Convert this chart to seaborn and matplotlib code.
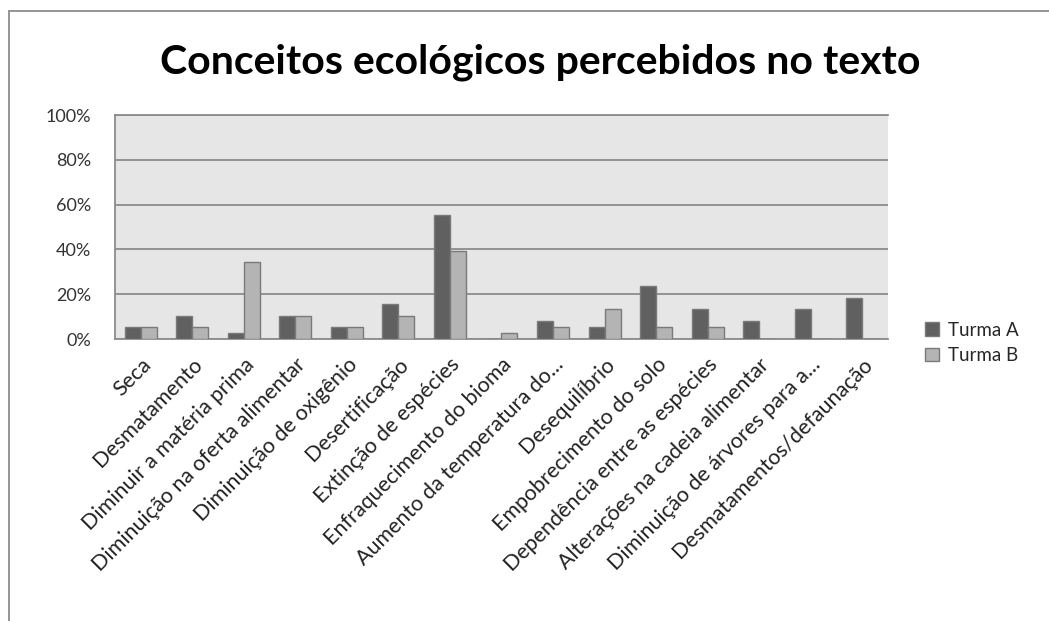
import matplotlib
matplotlib.use("Agg")
import matplotlib.pyplot as plt
import matplotlib.transforms as mtransforms
import seaborn as sns
import pandas as pd
from matplotlib.lines import Line2D
from matplotlib.patches import Patch
from matplotlib.ticker import FuncFormatter

# Data (percent)
categories = [
    "Seca",
    "Desmatamento",
    "Diminuir a matéria prima",
    "Diminuição na oferta alimentar",
    "Diminuição de oxigênio",
    "Desertificação",
    "Extinção de espécies",
    "Enfraquecimento do bioma",
    "Aumento da temperatura do...",
    "Desequilíbrio",
    "Empobrecimento do solo",
    "Dependência entre as espécies",
    "Alterações na cadeia alimentar",
    "Diminuição de árvores para a...",
    "Desmatamentos/defaunação",
]
turma_a = [5.3, 10.5, 2.6, 10.5, 5.3, 15.8, 55.3, 0.0, 7.9, 5.3, 23.7, 13.2, 7.9, 13.2, 18.4]
turma_b = [5.3, 5.3, 34.2, 10.5, 5.3, 10.5, 39.5, 2.6, 5.3, 13.2, 5.3, 5.3, 0.0, 0.0, 0.0]
series = ["Turma A", "Turma B"]
y_ticks = [0, 20, 40, 60, 80, 100]

colors = {"Turma A": "#606060", "Turma B": "#b4b4b4"}

df = pd.DataFrame({
    "conceito": categories * 2,
    "turma": [series[0]] * len(categories) + [series[1]] * len(categories),
    "valor": turma_a + turma_b,
})

sns.set_style("white")
plt.rcParams["font.family"] = ["Lato", "DejaVu Sans"]

fig = plt.figure(figsize=(10.49, 6.21), dpi=100)
ax = fig.add_axes([0.1096, 0.454, 0.7369, 0.3608])
ax.set_facecolor("#e6e6e6")

sns.barplot(data=df, x="conceito", y="valor", hue="turma", palette=colors,
            width=0.62, edgecolor="#7a7a7a", linewidth=1.0, ax=ax,
            legend=False, zorder=3)

ax.set_ylim(0, 100)
ax.set_xlim(-0.5, len(categories) - 0.5)
ax.set_yticks(y_ticks)
ax.yaxis.set_major_formatter(FuncFormatter(lambda v, p: f"{v:.0f}%"))
ax.grid(axis="y", color="#8c8c8c", linewidth=1.3, zorder=0)
ax.set_axisbelow(True)
ax.set_xlabel("")
ax.set_ylabel("")
for side in ["left", "bottom", "top"]:
    ax.spines[side].set_visible(True)
    ax.spines[side].set_color("#8c8c8c")
    ax.spines[side].set_linewidth(1.3)
ax.spines["right"].set_visible(False)

ax.tick_params(axis="y", length=0, pad=17, labelsize=13, labelcolor="#333333")
ax.tick_params(axis="x", length=0, pad=11, labelsize=15.5, labelcolor="#222222")
ax.set_xticks(range(len(categories)))
ax.set_xticklabels(categories, rotation=45, ha="right", rotation_mode="anchor")
# shift labels slightly right like the original
offset = mtransforms.ScaledTranslation(0.0, 0, fig.dpi_scale_trans)
for lbl in ax.get_xticklabels():
    lbl.set_transform(lbl.get_transform() + offset)

fig.text(0.515, 0.9, "Conceitos ecológicos percebidos no texto",
         ha="center", va="center", fontsize=29.5, fontweight="bold", color="black")

handles = [Patch(facecolor=colors[s], edgecolor="#7a7a7a", label=s) for s in series]
fig.legend(handles=handles, loc="center left", bbox_to_anchor=(0.866, 0.448),
           frameon=False, fontsize=13.5, handlelength=0.75, handleheight=0.75,
           handletextpad=0.45, labelspacing=0.45)

# chart border (cropped: only left and top visible)
fig.add_artist(Line2D([0.0086, 0.0086], [0.0, 0.983], color="#8c8c8c", linewidth=1.3))
fig.add_artist(Line2D([0.0086, 1.0], [0.983, 0.983], color="#8c8c8c", linewidth=1.3))

fig.savefig("out.png", dpi=100)
